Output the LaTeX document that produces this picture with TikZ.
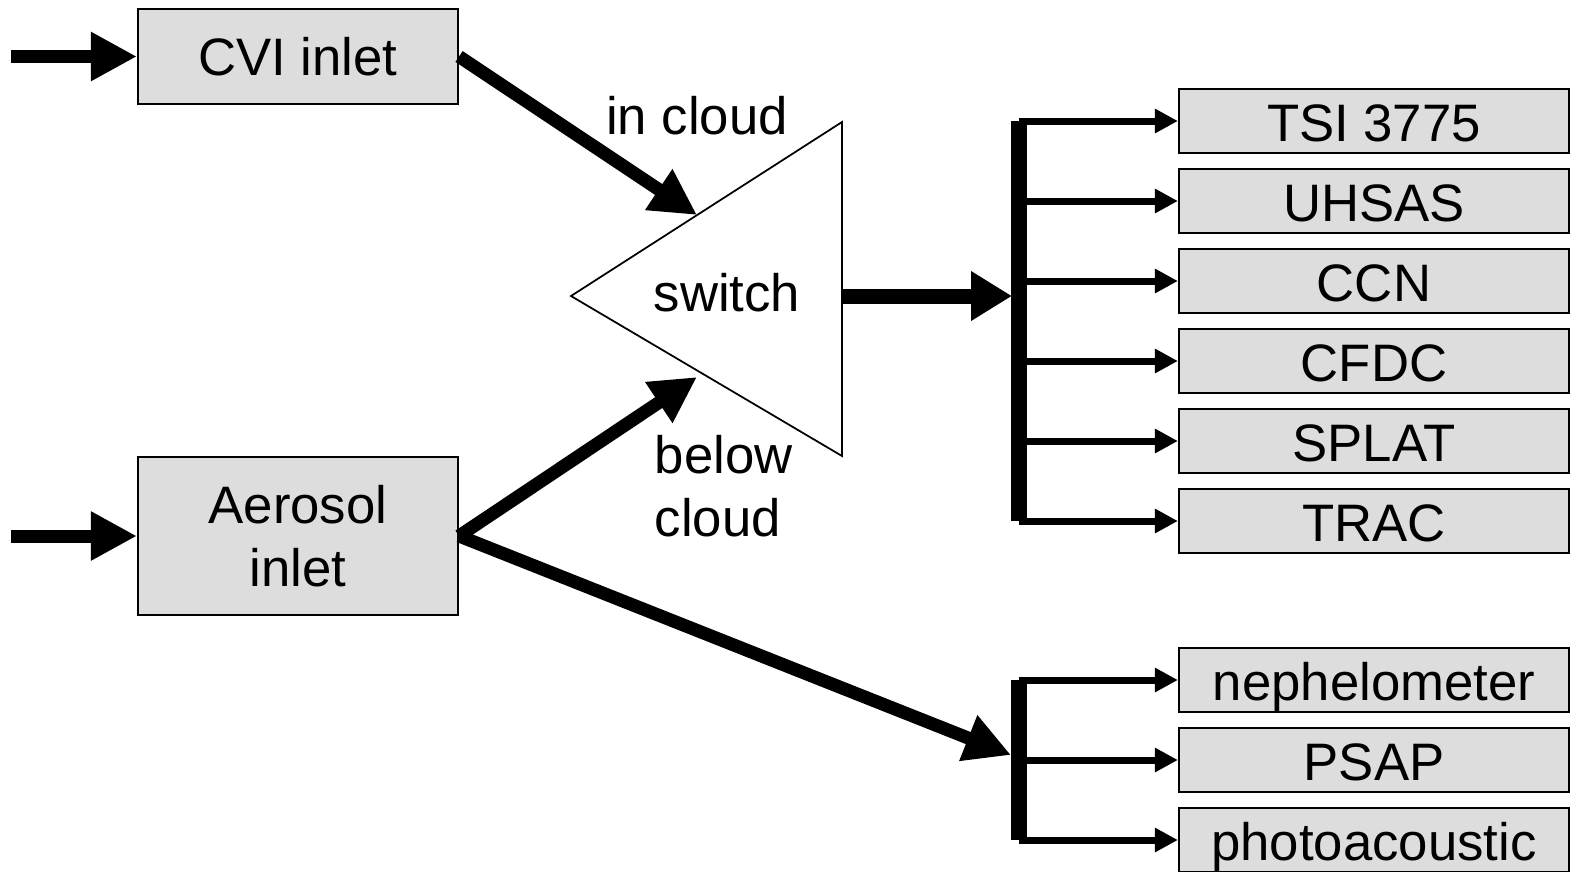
\documentclass[tikz,border=0pt]{standalone}
\usepackage{fontspec}
\setmainfont{Liberation Sans}
\usetikzlibrary{arrows.meta}
\definecolor{boxgray}{RGB}{221,221,221}

\begin{document}
\begin{tikzpicture}[x=1cm,y=-1cm,every node/.style={font=\fontsize{15}{18}\selectfont},
  inletbox/.style={draw,fill=boxgray,line width=0.6pt,minimum width=3.2cm,inner sep=0pt,align=center},
  instrbox/.style={draw,fill=boxgray,line width=0.6pt,minimum width=3.9cm,minimum height=0.64cm,inner sep=0pt,text height=0.5cm,text depth=0.1cm},
  flow/.style={line width=0.13cm,-{Triangle[length=0.46cm,width=0.46cm]}},
  bigflow/.style={line width=0.15cm,-{Triangle[length=0.41cm,width=0.47cm]}},
  branch/.style={line width=0.07cm,-{Triangle[length=0.23cm,width=0.23cm]}},
  bus/.style={line width=0.16cm}]
  \clip (0,0) rectangle (15.70,8.71);
  % inlets
  \node[inletbox,minimum height=0.95cm] (cvi) at (2.98,0.565) {CVI inlet};
  \node[inletbox,minimum height=1.58cm] (aer) at (2.98,5.36) {Aerosol\\inlet};
  \coordinate (cviin) at (0.11,0.565);
  \coordinate (aerin) at (0.11,5.36);
  \draw[flow] (cviin) -- (cvi.west);
  \draw[flow] (aerin) -- (aer.west);
  % switch
  \coordinate (apex) at (5.71,2.96);
  \coordinate (topc) at (8.42,1.22);
  \coordinate (botc) at (8.42,4.56);
  \draw[line width=0.5pt] (apex) -- (topc) -- (botc) -- cycle;
  \node (swlab) at (7.27,2.93) {switch};
  \node (incloud) at (6.97,1.16) {in cloud};
  \node[align=left,anchor=west,inner sep=0pt] (belowcloud) at (6.54,4.86) {below\\cloud};
  \coordinate (swtop) at (6.97,2.15);
  \coordinate (swbot) at (6.97,3.77);
  \coordinate (swout) at (8.42,2.96);
  \draw[flow] (cvi.east) -- (swtop);
  \draw[flow] (aer.east) -- (swbot);
  % instruments behind the switch
  \node[instrbox] (tsi) at (13.74,1.21) {TSI 3775};
  \node[instrbox] (uhsas) at (13.74,2.01) {UHSAS};
  \node[instrbox] (ccn) at (13.74,2.81) {CCN};
  \node[instrbox] (cfdc) at (13.74,3.61) {CFDC};
  \node[instrbox] (splat) at (13.74,4.41) {SPLAT};
  \node[instrbox] (trac) at (13.74,5.21) {TRAC};
  \coordinate (busup) at (10.19,1.21);
  \coordinate (busupend) at (10.19,5.21);
  \coordinate (busupin) at (10.12,2.96);
  \draw[bus] (busup) -- (busupend);
  \draw[bigflow] (swout) -- (busupin);
  \draw[branch] (tsi.west -| busup) -- (tsi.west);
  \draw[branch] (uhsas.west -| busup) -- (uhsas.west);
  \draw[branch] (ccn.west -| busup) -- (ccn.west);
  \draw[branch] (cfdc.west -| busup) -- (cfdc.west);
  \draw[branch] (splat.west -| busup) -- (splat.west);
  \draw[branch] (trac.west -| busup) -- (trac.west);
  % aerosol-only instruments
  \node[instrbox] (neph) at (13.74,6.80) {nephelometer};
  \node[instrbox] (psap) at (13.74,7.60) {PSAP};
  \node[instrbox] (photo) at (13.74,8.40) {photoacoustic};
  \coordinate (buslo) at (10.19,6.80);
  \coordinate (busloend) at (10.19,8.40);
  \coordinate (busloin) at (10.11,7.55);
  \draw[bus] (buslo) -- (busloend);
  \draw[flow] (aer.east) -- (busloin);
  \draw[branch] (neph.west -| buslo) -- (neph.west);
  \draw[branch] (psap.west -| buslo) -- (psap.west);
  \draw[branch] (photo.west -| buslo) -- (photo.west);
\end{tikzpicture}
\end{document}
